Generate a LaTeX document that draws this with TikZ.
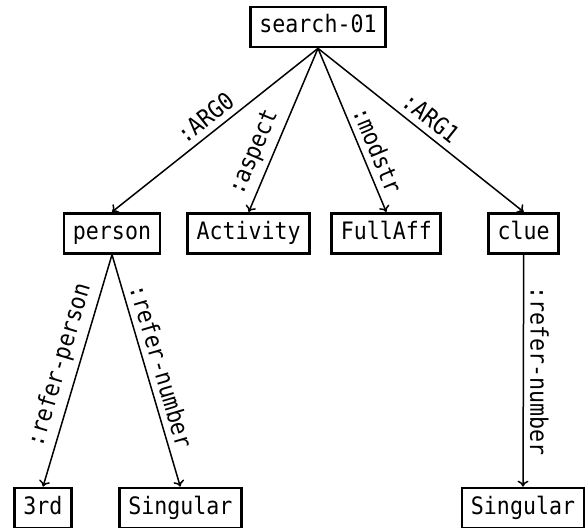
\documentclass[tikz,border=0pt]{standalone}
\usepackage{fontspec}
\newfontfamily\amrfont[FakeStretch=0.9]{DejaVu Sans Mono}
\usetikzlibrary{arrows.meta}
\begin{document}
\begin{tikzpicture}[x=1bp,y=-1bp,
  amr/.style={draw, line width=2.7bp, font=\amrfont\fontsize{24bp}{28bp}\selectfont,
    inner xsep=9bp, inner ysep=0pt, minimum height=40bp,
    text height=17.3bp, text depth=5.3bp},
  rel/.style={draw, line width=1.5bp, -{To[length=6bp,width=11bp]}},
  lbl/.style={font=\amrfont\fontsize{24bp}{28bp}\selectfont, sloped, above, inner sep=6bp}]
\useasboundingbox (0,0) rectangle (587,528);
\node[amr] (s) at (318,27) {search-01};
\node[amr] (p) at (112,233.3) {person};
\node[amr] (a) at (248.7,233.3) {Activity};
\node[amr] (f) at (386.3,233.3) {FullAff};
\node[amr] (c) at (523.7,233.3) {clue};
\node[amr] (t) at (43,508) {3rd};
\node[amr] (sg1) at (180.3,508) {Singular};
\node[amr] (sg2) at (523,508) {Singular};
\draw[rel] (s.south) -- node[lbl, midway] {:ARG0} (p.north);
\draw[rel] (s.south) -- node[lbl, pos=0.68] {:aspect} (a.north);
\draw[rel] (s.south) -- node[lbl, pos=0.66] {:modstr} (f.north);
\draw[rel] (s.south) -- node[lbl, midway] {:ARG1} (c.north);
\draw[rel] (p.south) -- node[lbl, midway] {:refer-person} (t.north);
\draw[rel] (p.south) -- node[lbl, midway] {:refer-number} (sg1.north);
\draw[rel] (c.south) -- node[lbl, midway, allow upside down] {:refer-number} (sg2.north);
\end{tikzpicture}
\end{document}
